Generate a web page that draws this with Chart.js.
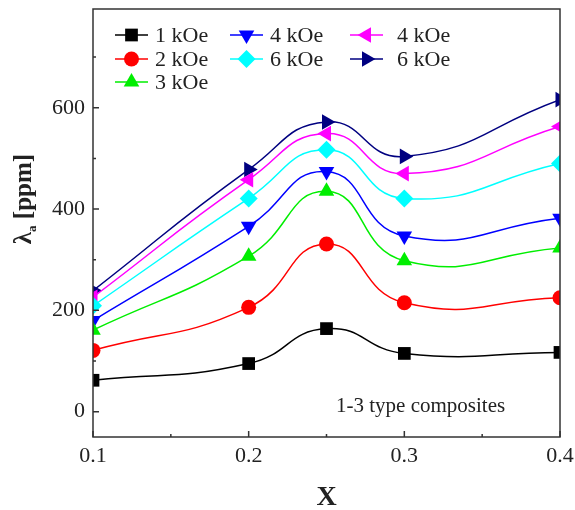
<!DOCTYPE html>
<html>
<head>
<meta charset="utf-8">
<script src="https://cdn.jsdelivr.net/npm/chart.js@4/dist/chart.umd.min.js"></script>
<style>
  html, body { margin: 0; padding: 0; background: #fff; }
  #wrap { width: 575px; height: 510px; }
</style>
</head>
<body>
<div id="wrap"><canvas id="c" width="575" height="510"></canvas></div>
<script>
// composition x and lambda_a values
const X_VALUES = [0.1, 0.2, 0.25, 0.3, 0.4];
const LABELS = ['1 kOe', '2 kOe', '3 kOe', '4 kOe', '6 kOe', '4 kOe', '6 kOe'];
const S_1K = [62, 95, 164, 115, 117];
const S_2K = [121, 206, 331, 215, 225];
const S_3K = [161, 307, 435, 298, 323];
const S_4K = [180, 366, 474, 347, 382];
const S_6K = [209, 421, 517, 421, 490];
const S_4K_B = [226, 458, 549, 470, 563];
const S_6K_B = [239, 478, 572, 504, 616];
const X_TICKS = [0.1, 0.2, 0.3, 0.4];
const Y_TICKS = [0, 200, 400, 600];

const FONT = '"Liberation Serif", "Times New Roman", serif';

const STYLES = [
  { color: '#000000', style: 'rect', radius: 9, rotation: 0 },
  { color: '#ff0000', style: 'circle', radius: 7.5, rotation: 0 },
  { color: '#00ee00', style: 'triangle', radius: 9, rotation: 0 },
  { color: '#0000ff', style: 'triangle', radius: 9, rotation: 180 },
  { color: '#00ffff', style: 'rectRot', radius: 9, rotation: 0 },
  { color: '#ff00ff', style: 'triangle', radius: 9, rotation: 270 },
  { color: '#000080', style: 'triangle', radius: 9, rotation: 90 },
];
const SERIES = [S_1K, S_2K, S_3K, S_4K, S_6K, S_4K_B, S_6K_B];

const datasets = SERIES.map((s, i) => ({
  label: LABELS[i],
  data: X_VALUES.map((x, j) => ({ x, y: s[j] })),
  borderColor: STYLES[i].color,
  backgroundColor: STYLES[i].color,
  pointStyle: STYLES[i].style,
  pointRadius: STYLES[i].radius,
  pointRotation: STYLES[i].rotation,
  pointBorderWidth: 0,
  borderWidth: 1.5,
  tension: 0.5,
}));

const isOn = (v, list) => list.some((t) => Math.abs(t - v) < 1e-6);

// frame, inward ticks, y title, text note, custom legend
const decor = {
  id: 'decor',
  afterDraw(chart) {
    const { ctx, chartArea: a, scales } = chart;
    const xs = scales.x, ys = scales.y;
    ctx.save();
    ctx.strokeStyle = '#333';
    ctx.lineWidth = 1.5;
    ctx.strokeRect(a.left, a.top, a.right - a.left, a.bottom - a.top);

    ctx.beginPath();
    for (let v = 0.1; v <= 0.4001; v += 0.05) {
      const px = xs.getPixelForValue(v);
      const len = isOn(v, X_TICKS) ? 6 : 3;
      ctx.moveTo(px, a.bottom); ctx.lineTo(px, a.bottom - len);
    }
    for (let v = 0; v <= 700; v += 100) {
      const py = ys.getPixelForValue(v);
      const len = isOn(v, Y_TICKS) ? 6 : 3;
      ctx.moveTo(a.left, py); ctx.lineTo(a.left + len, py);
    }
    ctx.stroke();

    // y title with subscript
    ctx.fillStyle = '#222';
    ctx.translate(31, 199);
    ctx.rotate(-Math.PI / 2);
    ctx.textBaseline = 'alphabetic';
    ctx.textAlign = 'left';
    const big = 'bold 25px ' + FONT, small = 'bold 13px ' + FONT;
    ctx.font = big; const w1 = ctx.measureText('λ').width;
    ctx.font = small; const w2 = ctx.measureText('a').width;
    ctx.font = big; const w3 = ctx.measureText(' [ppm]').width;
    let x0 = -(w1 + w2 + w3) / 2;
    ctx.font = big; ctx.fillText('λ', x0, 0);
    ctx.font = small; ctx.fillText('a', x0 + w1, 5);
    ctx.font = big; ctx.fillText(' [ppm]', x0 + w1 + w2, 0);
    ctx.setTransform(1, 0, 0, 1, 0, 0);

    // x title
    ctx.font = 'bold 28px ' + FONT;
    ctx.textAlign = 'center';
    ctx.fillText('X', (a.left + a.right) / 2, 505);

    // note
    ctx.font = '21px ' + FONT;
    ctx.textAlign = 'left';
    ctx.fillText('1-3 type composites', 336, 412);

    // legend, column-major
    const cols = [[0, 1, 2], [3, 4], [5, 6]];
    const colX = [115, 230, 350];
    const textX = [155, 270, 397];
    const rowY = [35, 59, 82];
    ctx.font = '22px ' + FONT;
    ctx.textBaseline = 'middle';
    cols.forEach((col, c) => col.forEach((di, r) => {
      const st = STYLES[di];
      const y = rowY[r];
      ctx.strokeStyle = st.color;
      ctx.fillStyle = st.color;
      ctx.lineWidth = 1.5;
      ctx.beginPath();
      ctx.moveTo(colX[c], y); ctx.lineTo(colX[c] + 33, y);
      ctx.stroke();
      Chart.helpers.drawPoint(ctx, { pointStyle: st.style, radius: st.radius, rotation: st.rotation, borderWidth: 0 }, colX[c] + 16.5, y);
      ctx.fillStyle = '#222';
      ctx.fillText(LABELS[di], textX[c], y + 1);
    }));
    ctx.restore();
  },
};

new Chart(document.getElementById('c'), {
  type: 'line',
  data: { datasets },
  options: {
    responsive: false,
    animation: false,
    devicePixelRatio: 1,
    layout: { padding: { top: 7, right: 15, left: 0, bottom: 0 } },
    plugins: { legend: { display: false }, tooltip: { enabled: false } },
    scales: {
      x: {
        type: 'linear', min: 0.1, max: 0.4,
        afterFit: (s) => { s.height = 73; s.paddingLeft = 0; s.paddingRight = 0; },
        grid: { display: false, drawTicks: false },
        border: { display: false },
        ticks: {
          stepSize: 0.1, padding: 6, color: '#222',
          font: { family: FONT, size: 22 },
          callback: (v) => isOn(v, X_TICKS) ? v.toFixed(1) : '',
        },
      },
      y: {
        type: 'linear', min: -50, max: 795,
        afterFit: (s) => { s.width = 93; s.paddingTop = 0; s.paddingBottom = 0; },
        afterBuildTicks: (s) => { s.ticks = Y_TICKS.map((v) => ({ value: v })); },
        grid: { display: false, drawTicks: false },
        border: { display: false },
        ticks: {
          padding: 8, color: '#222',
          font: { family: FONT, size: 22 },
        },
      },
    },
  },
  plugins: [decor],
});
</script>
</body>
</html>
